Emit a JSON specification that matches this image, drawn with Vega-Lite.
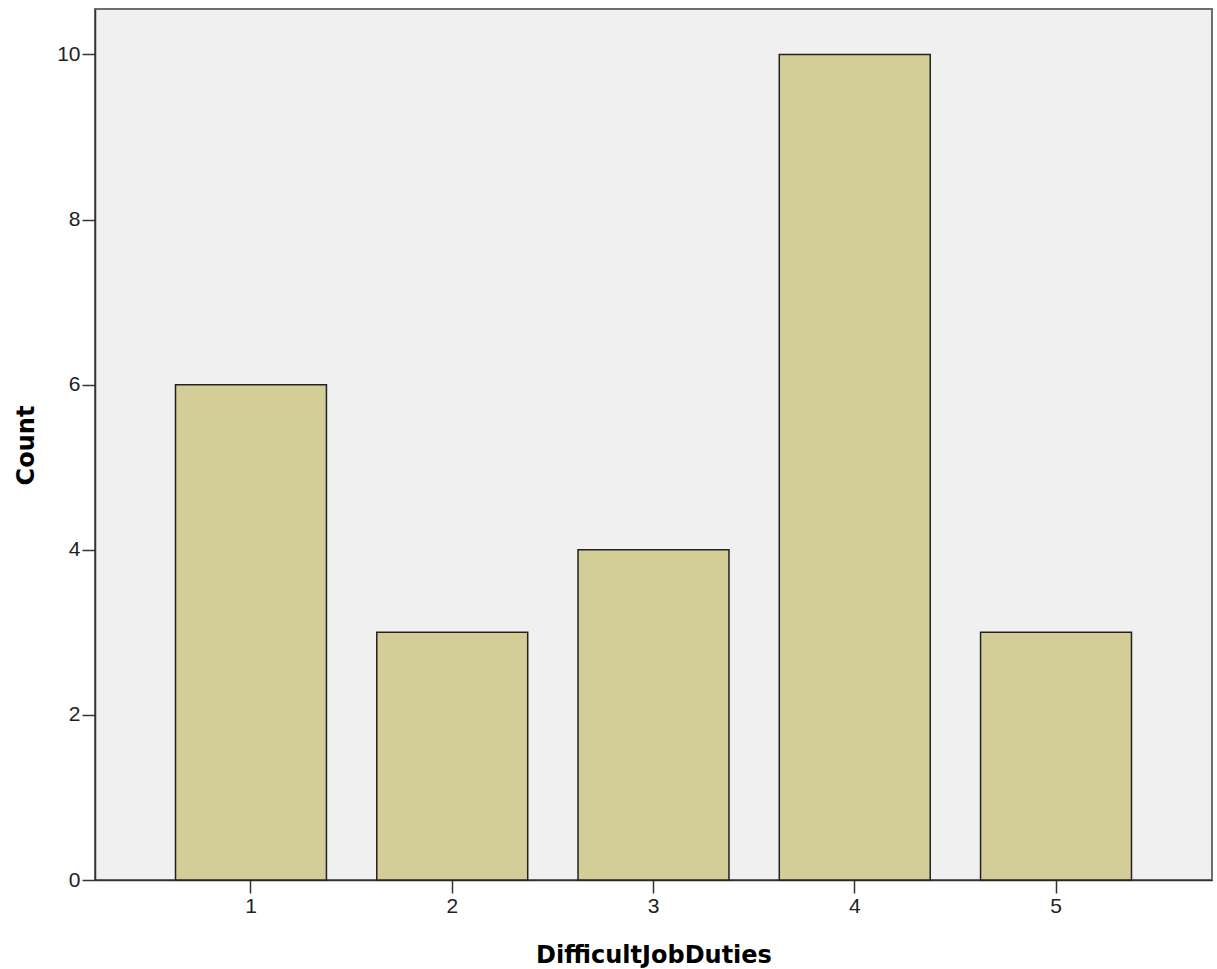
{
  "$schema": "https://vega.github.io/schema/vega-lite/v6.json",
  "autosize": {"type": "none"},
  "width": 1117,
  "height": 871,
  "padding": {"left": 95, "top": 9, "right": 5, "bottom": 89},
  "background": "#ffffff",
  "config": {
    "view": {"fill": "#f0f0f0", "stroke": "#6e6e6e", "strokeWidth": 2},
    "axis": {
      "grid": false,
      "domainColor": "#333333",
      "domainWidth": 1.5,
      "tickColor": "#333333",
      "tickWidth": 1.5,
      "tickSize": 13,
      "labelFont": "Liberation Sans",
      "labelFontSize": 21,
      "labelColor": "#222222",
      "labelPadding": 2,
      "titleFont": "DejaVu Sans",
      "titleFontSize": 24,
      "titleFontWeight": "bold",
      "titleColor": "#000000"
    }
  },
  "data": {
    "values": [
      {"DifficultJobDuties": "1", "Count": 6},
      {"DifficultJobDuties": "2", "Count": 3},
      {"DifficultJobDuties": "3", "Count": 4},
      {"DifficultJobDuties": "4", "Count": 10},
      {"DifficultJobDuties": "5", "Count": 3}
    ]
  },
  "mark": {"type": "bar", "fill": "#d3ce97", "stroke": "#222222", "strokeWidth": 1.5},
  "encoding": {
    "x": {
      "field": "DifficultJobDuties",
      "type": "ordinal",
      "scale": {"paddingInner": 0.25, "paddingOuter": 0.4},
      "axis": {"labelAngle": 0, "title": "DifficultJobDuties", "titleBaseline": "alphabetic", "titleY": 82}
    },
    "y": {
      "field": "Count",
      "type": "quantitative",
      "scale": {"domain": [0, 10.55], "nice": false},
      "axis": {"values": [0, 2, 4, 6, 8, 10], "title": "Count", "titleBaseline": "alphabetic", "titleAngle": -90, "titleX": -62, "titleY": 436}
    }
  }
}
